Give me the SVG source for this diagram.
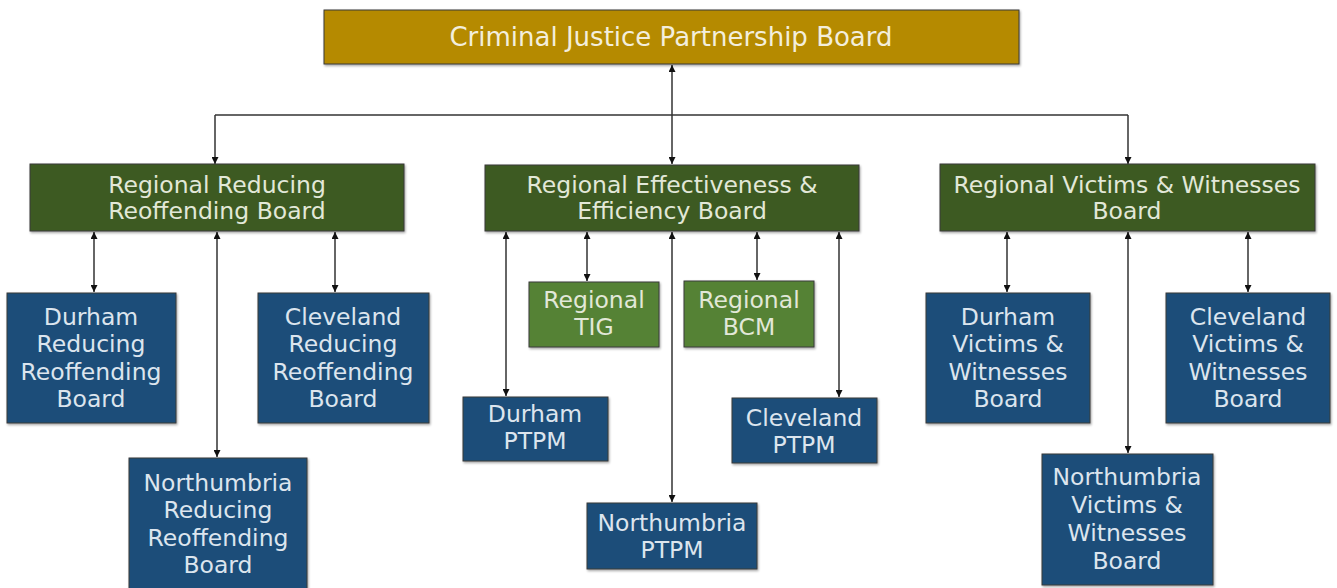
<svg xmlns="http://www.w3.org/2000/svg" width="1337" height="588" viewBox="0 0 1337 588">
<defs>
<marker id="ah" viewBox="0 0 10 10" refX="10" refY="5" markerWidth="7" markerHeight="7" markerUnits="userSpaceOnUse" orient="auto-start-reverse"><path d="M0,0 L10,5 L0,10 z" fill="#111"/></marker>
<filter id="sh" x="-5%" y="-5%" width="110%" height="115%"><feDropShadow dx="1" dy="1.5" stdDeviation="1" flood-color="#000" flood-opacity="0.35"/></filter>
</defs>
<style>
.box{stroke:#3a3a3a;stroke-width:1;filter:url(#sh)}
.gold{fill:#B58A00}
.dg{fill:#3C5A22}
.lg{fill:#548235}
.bl{fill:#1F4E79}
text{font-family:"DejaVu Sans","Liberation Sans",sans-serif;font-size:23.5px;text-anchor:middle;dominant-baseline:central}
.tg{fill:#F3EEDC;font-size:26px}
.tgr{fill:#E2E8D8}
.tb{fill:#DCE5EE}
.c{stroke:#333;stroke-width:1.5;fill:none}
.a2{marker-start:url(#ah);marker-end:url(#ah)}
.a1{marker-end:url(#ah)}
</style>
<rect width="1337" height="588" fill="#fff"/>
<g id="connectors">
<line class="c a2" x1="672" y1="65" x2="672" y2="164"/>
<polyline class="c a1" points="215,115 215,164"/>
<line class="c" x1="215" y1="115" x2="1128" y2="115"/>
<polyline class="c a1" points="1128,115 1128,164"/>
<line class="c a2" x1="94" y1="232" x2="94" y2="292"/>
<line class="c a2" x1="335" y1="232" x2="335" y2="292"/>
<line class="c a2" x1="217" y1="232" x2="217" y2="457"/>
<line class="c a2" x1="506" y1="232" x2="506" y2="396"/>
<line class="c a2" x1="587" y1="232" x2="587" y2="281"/>
<line class="c a2" x1="672" y1="232" x2="672" y2="502"/>
<line class="c a2" x1="757" y1="232" x2="757" y2="280"/>
<line class="c a2" x1="839" y1="232" x2="839" y2="397"/>
<line class="c a2" x1="1007" y1="232" x2="1007" y2="292"/>
<line class="c a2" x1="1248" y1="232" x2="1248" y2="292"/>
<line class="c a2" x1="1128" y1="232" x2="1128" y2="453"/>
</g>
<g id="cjpb"><rect class="box gold" x="324" y="10" width="695" height="54"/><text class="tg" x="671" y="37">Criminal Justice Partnership Board</text></g>
<g id="rrrb"><rect class="box dg" x="30" y="164" width="374" height="67"/><text class="tgr" x="217" y="185">Regional Reducing</text><text class="tgr" x="217" y="211">Reoffending Board</text></g>
<g id="reeb"><rect class="box dg" x="485" y="165" width="374" height="66"/><text class="tgr" x="672" y="185">Regional Effectiveness &amp;</text><text class="tgr" x="672" y="211">Efficiency Board</text></g>
<g id="rvwb"><rect class="box dg" x="940" y="164" width="375" height="67"/><text class="tgr" x="1127" y="185">Regional Victims &amp; Witnesses</text><text class="tgr" x="1127" y="211">Board</text></g>
<g id="durham-rr"><rect class="box bl" x="7" y="293" width="169" height="130"/><text class="tb" x="91" y="317">Durham</text><text class="tb" x="91" y="344">Reducing</text><text class="tb" x="91" y="372">Reoffending</text><text class="tb" x="91" y="399">Board</text></g>
<g id="cleveland-rr"><rect class="box bl" x="258" y="293" width="171" height="130"/><text class="tb" x="343" y="317">Cleveland</text><text class="tb" x="343" y="344">Reducing</text><text class="tb" x="343" y="372">Reoffending</text><text class="tb" x="343" y="399">Board</text></g>
<g id="northumbria-rr"><rect class="box bl" x="129" y="458" width="178" height="135"/><text class="tb" x="218" y="483">Northumbria</text><text class="tb" x="218" y="510">Reducing</text><text class="tb" x="218" y="538">Reoffending</text><text class="tb" x="218" y="565">Board</text></g>
<g id="tig"><rect class="box lg" x="529" y="282" width="130" height="65"/><text class="tgr" x="594" y="300">Regional</text><text class="tgr" x="594" y="327">TIG</text></g>
<g id="bcm"><rect class="box lg" x="684" y="281" width="130" height="66"/><text class="tgr" x="749" y="300">Regional</text><text class="tgr" x="749" y="327">BCM</text></g>
<g id="durham-ptpm"><rect class="box bl" x="463" y="397" width="145" height="64"/><text class="tb" x="535" y="414">Durham</text><text class="tb" x="535" y="441">PTPM</text></g>
<g id="cleveland-ptpm"><rect class="box bl" x="732" y="398" width="145" height="65"/><text class="tb" x="804" y="418">Cleveland</text><text class="tb" x="804" y="445">PTPM</text></g>
<g id="northumbria-ptpm"><rect class="box bl" x="587" y="503" width="170" height="66"/><text class="tb" x="672" y="523">Northumbria</text><text class="tb" x="672" y="550">PTPM</text></g>
<g id="durham-vw"><rect class="box bl" x="926" y="293" width="164" height="130"/><text class="tb" x="1008" y="317">Durham</text><text class="tb" x="1008" y="344">Victims &amp;</text><text class="tb" x="1008" y="372">Witnesses</text><text class="tb" x="1008" y="399">Board</text></g>
<g id="cleveland-vw"><rect class="box bl" x="1166" y="293" width="164" height="130"/><text class="tb" x="1248" y="317">Cleveland</text><text class="tb" x="1248" y="344">Victims &amp;</text><text class="tb" x="1248" y="372">Witnesses</text><text class="tb" x="1248" y="399">Board</text></g>
<g id="northumbria-vw"><rect class="box bl" x="1042" y="454" width="171" height="131"/><text class="tb" x="1127" y="477">Northumbria</text><text class="tb" x="1127" y="505">Victims &amp;</text><text class="tb" x="1127" y="533">Witnesses</text><text class="tb" x="1127" y="561">Board</text></g>
</svg>
